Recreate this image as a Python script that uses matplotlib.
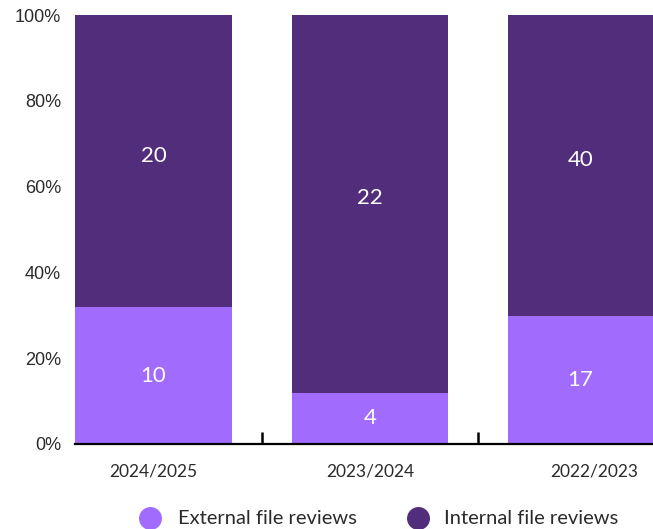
import matplotlib
matplotlib.use("Agg")
import matplotlib.pyplot as plt
from matplotlib.lines import Line2D

years = ["2024/2025", "2023/2024", "2022/2023"]
external_counts = [10, 4, 17]
internal_counts = [20, 22, 40]
external_share = [31.9, 11.9, 29.8]   # % of bar height as drawn
internal_share = [100 - v for v in external_share]
series_names = ["External file reviews", "Internal file reviews"]
light = "#A16CFD"
dark = "#522D7C"
txt = "#2b2b2b"
geo_font = ["Lato", "DejaVu Sans"]

W, H = 653, 529
fig = plt.figure(figsize=(W/100, H/100), dpi=100)
ax = fig.add_axes([75/W, 1-444/H, 1-75/W, (444-15)/H])

x = list(range(len(years)))
w = 0.725
b1 = ax.bar(x, external_share, width=w, color=light)
b2 = ax.bar(x, internal_share, width=w, bottom=external_share, color=dark)
ax.bar_label(b1, labels=[str(v) for v in external_counts], label_type="center",
             color="white", fontsize=16, family=geo_font)
ax.bar_label(b2, labels=[str(v) for v in internal_counts], label_type="center",
             color="white", fontsize=16, family=geo_font, padding=4)

ax.set_xlim(-w/2, 2.307)
ax.set_ylim(0, 100)
ax.set_yticks([0, 20, 40, 60, 80, 100])
ax.set_yticklabels([f"{v}%" for v in [0, 20, 40, 60, 80, 100]],
                   family="Liberation Sans", fontsize=13, color=txt)
ax.tick_params(axis="y", length=0, pad=10)

ax.set_xticks([0.5, 1.5])
ax.set_xticklabels([])
ax.tick_params(axis="x", direction="in", length=9, width=1.8, color="black")
for i, lab in enumerate(years):
    ax.text(i + (0.035 if i == 2 else 0), -4.6, lab, ha="center", va="top",
            fontsize=12.5, family=geo_font, color=txt, transform=ax.transData)

for s in ["top", "right", "left"]:
    ax.spines[s].set_visible(False)
ax.spines["bottom"].set_linewidth(1.6)
ax.spines["bottom"].set_color("black")

# legend (manual placement)
leg_y = 1 - 518/H
for cx, tx, col, name in [(150, 178, light, series_names[0]),
                          (418, 444, dark, series_names[1])]:
    fig.add_artist(Line2D([cx/W], [leg_y], marker="o", markersize=15.5,
                          linestyle="", color=col, transform=fig.transFigure))
    fig.text(tx/W, leg_y, name, ha="left", va="center", fontsize=14.5,
             family=geo_font, color=txt)

fig.savefig("out.png", dpi=100)
